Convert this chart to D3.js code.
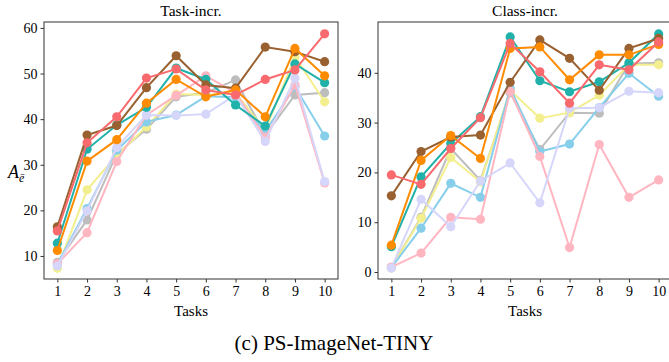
<!DOCTYPE html>
<html>
<head>
<meta charset="utf-8">
<script src="https://cdn.jsdelivr.net/npm/d3@7"></script>
<style>
  body { margin: 0; background: #fff; }
  svg text { font-family: "Times New Roman", "Liberation Serif", Tinos, Times, serif; fill: #000; }
</style>
</head>
<body>
<div id="chart"></div>
<script>
// tasks on the x axis
const tasks = [1, 2, 3, 4, 5, 6, 7, 8, 9, 10]

// series names + colours (same order in both panels)
const seriesNames = ['gray', 'khaki', 'skyblue', 'pink', 'lavender', 'teal', 'brown', 'orange', 'red']
const seriesColors = ['#bdbdbd', '#f3ee8e', '#87ceeb', '#ffb6c1', '#d6d6fb', '#20b2aa', '#996030', '#ff8c00', '#f96a6e']

// Task-incr. values
const taskGray = [8.6, 17.9, 32.4, 37.8, 44.9, 45.8, 48.6, 36.5, 45.3, 45.8]
const taskKhaki = [7.3, 24.5, 32.1, 38.3, 45.5, 45.3, 45.8, 37.5, 53.7, 43.8]
const taskSkyblue = [8.2, 20.4, 33.2, 39.4, 40.9, 45.0, 44.8, 37.3, 47.1, 36.3]
const taskPink = [8.3, 15.1, 30.7, 40.9, 45.2, 49.5, 45.8, 36.0, 47.5, 26.0]
const taskLavender = [7.8, 19.9, 33.8, 40.9, 40.8, 41.1, 45.3, 35.1, 49.0, 26.3]
const taskTeal = [12.8, 33.4, 38.7, 42.6, 51.2, 48.7, 43.1, 38.5, 52.1, 48.0]
const taskBrown = [16.4, 36.5, 38.6, 46.9, 53.9, 47.5, 46.8, 55.8, 54.8, 52.6]
const taskOrange = [11.2, 30.8, 35.5, 43.5, 48.7, 44.9, 46.4, 40.5, 55.5, 49.5]
const taskRed = [15.5, 34.8, 40.5, 49.0, 51.0, 46.4, 45.3, 48.7, 50.8, 58.7]

// Class-incr. values
const classGray = [0.9, 11.0, 24.8, 18.4, 36.0, 24.6, 32.0, 31.9, 41.8, 42.0]
const classKhaki = [0.8, 10.8, 23.0, 18.1, 36.5, 30.9, 32.0, 35.5, 41.6, 41.6]
const classSkyblue = [0.9, 8.8, 17.8, 15.0, 36.9, 24.2, 25.7, 33.0, 39.9, 35.3]
const classPink = [1.0, 3.8, 11.0, 10.6, 36.3, 23.2, 4.9, 25.6, 15.0, 18.5]
const classLavender = [0.8, 14.6, 9.1, 18.3, 21.9, 13.9, 32.9, 33.0, 36.3, 36.0]
const classTeal = [5.1, 19.1, 25.8, 31.2, 47.2, 38.4, 36.2, 38.2, 42.0, 47.8]
const classBrown = [15.3, 24.2, 27.1, 27.5, 38.1, 46.6, 42.9, 36.5, 44.9, 46.9]
const classOrange = [5.4, 22.4, 27.4, 22.8, 44.9, 45.2, 38.6, 43.6, 43.6, 45.7]
const classRed = [19.5, 17.6, 24.8, 31.0, 45.9, 40.2, 33.9, 41.6, 40.6, 46.2]

const taskSeries = [taskGray, taskKhaki, taskSkyblue, taskPink, taskLavender, taskTeal, taskBrown, taskOrange, taskRed]
const classSeries = [classGray, classKhaki, classSkyblue, classPink, classLavender, classTeal, classBrown, classOrange, classRed]

const taskYTicks = [10, 20, 30, 40, 50, 60]
const classYTicks = [0, 10, 20, 30, 40]

const width = 669
const height = 362
const serif = '"Times New Roman", "Liberation Serif", Tinos, Times, serif'

const svg = d3.select('#chart').append('svg')
    .attr('width', width)
    .attr('height', height)

function drawPanel (opts) {
    const x = d3.scaleLinear().domain([0.55, 10.45]).range([opts.left, opts.right])
    const y = d3.scaleLinear().domain(opts.yDomain).range([opts.bottom, opts.top])
    const g = svg.append('g')

    const line = d3.line()
        .x((d, i) => x(tasks[i]))
        .y(d => y(d))

    opts.series.forEach((vals, k) => {
        const s = g.append('g')
        s.append('path')
            .datum(vals)
            .attr('d', line)
            .attr('fill', 'none')
            .attr('stroke', seriesColors[k])
            .attr('stroke-width', 2)
        s.selectAll('circle')
            .data(vals)
            .enter()
            .append('circle')
            .attr('cx', (d, i) => x(tasks[i]))
            .attr('cy', d => y(d))
            .attr('r', 4.6)
            .attr('fill', seriesColors[k])
    })

    // frame
    g.append('rect')
        .attr('x', opts.left)
        .attr('y', opts.top)
        .attr('width', opts.right - opts.left)
        .attr('height', opts.bottom - opts.top)
        .attr('fill', 'none')
        .attr('stroke', '#333')
        .attr('stroke-width', 1)

    const xAxis = g.append('g')
        .attr('transform', `translate(0,${opts.bottom})`)
        .call(d3.axisBottom(x).tickValues(tasks).tickSize(3.5).tickPadding(4).tickFormat(d3.format('d')))
    const yAxis = g.append('g')
        .attr('transform', `translate(${opts.left},0)`)
        .call(d3.axisLeft(y).tickValues(opts.yTicks).tickSize(3.5).tickPadding(3).tickFormat(d3.format('d')))

    ;[xAxis, yAxis].forEach(a => {
        a.attr('font-family', serif)
        a.select('.domain').remove()
        a.selectAll('line').attr('stroke', '#333')
        a.selectAll('text')
            .attr('font-size', 14)
            .attr('fill', '#000')
    })

    g.append('text')
        .attr('x', (opts.left + opts.right) / 2)
        .attr('y', opts.top - 6)
        .attr('text-anchor', 'middle')
        .attr('font-size', 15.5)
        .text(opts.title)

    g.append('text')
        .attr('x', (opts.left + opts.right) / 2)
        .attr('y', opts.bottom + 37)
        .attr('text-anchor', 'middle')
        .attr('font-size', 15)
        .text('Tasks')
}

drawPanel({
    left: 44, right: 338, top: 22, bottom: 279,
    yDomain: [4.95, 61.3],
    yTicks: taskYTicks,
    series: taskSeries,
    title: 'Task-incr.'
})

drawPanel({
    left: 378, right: 672, top: 22, bottom: 279,
    yDomain: [-1.4, 50.2],
    yTicks: classYTicks,
    series: classSeries,
    title: 'Class-incr.'
})

// y label A with e-bar subscript
const yl = svg.append('text')
    .attr('x', 8)
    .attr('y', 178)
    .attr('font-size', 18)
yl.append('tspan').attr('font-style', 'italic').text('A')
yl.append('tspan').attr('font-style', 'italic').attr('font-size', 12).attr('dy', 4).text('ē')

svg.append('text')
    .attr('x', 334)
    .attr('y', 350)
    .attr('text-anchor', 'middle')
    .attr('font-size', 21)
    .text('(c) PS-ImageNet-TINY')
</script>
</body>
</html>
